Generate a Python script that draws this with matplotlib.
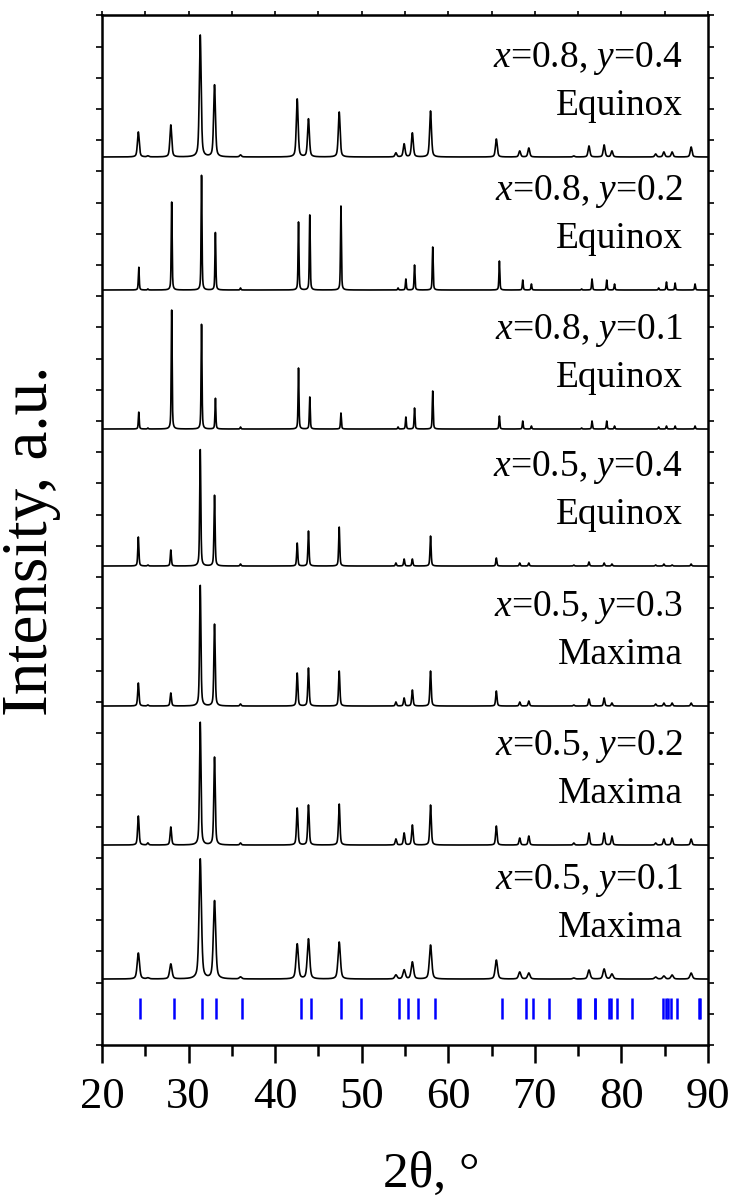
import numpy as np
import matplotlib
matplotlib.use("Agg")
import matplotlib.pyplot as plt

plt.rcParams['font.family'] = ['Liberation Serif', 'DejaVu Serif']
plt.rcParams['mathtext.fontset'] = 'custom'
plt.rcParams['mathtext.rm'] = 'Liberation Serif'
plt.rcParams['mathtext.it'] = 'Liberation Serif:italic'

# peak positions (2theta, deg)
pos_a = [24.2, 25.3, 27.95, 31.35, 33.0, 36.0, 42.55, 43.85, 47.4, 53.95, 54.9, 55.85,
         57.95, 65.55, 68.25, 69.3, 74.5, 76.25, 78.0, 78.9, 83.95, 84.9, 85.85, 88.05]
pos_b = [24.25, 25.3, 28.05, 31.5, 33.1, 36.0, 42.7, 44.0, 47.6, 54.2, 55.1, 56.1,
         58.2, 65.9, 68.6, 69.6, 75.4, 76.6, 78.3, 79.2, 84.3, 85.2, 86.2, 88.5]

# peak heights, a.u. (bottom pattern first)
h_05_01 = [26, 1, 15, 120, 78, 2, 35, 40, 37, 4, 9, 17, 34, 19, 7, 6, 1, 9, 10, 5, 2, 3, 4, 6]
h_05_02 = [29, 2, 18, 123, 88, 2, 37, 40, 41, 6, 12, 20, 40, 19, 7, 9, 2, 12, 12, 9, 2, 6, 7, 6]
h_05_03 = [23, 1, 13, 121, 82, 2, 33, 38, 35, 4, 8, 16, 35, 15, 4, 5, 1, 7, 8, 3, 2, 3, 3, 3]
h_05_04 = [29, 1, 16, 117, 71, 2, 23, 35, 39, 3, 7, 7, 30, 8, 3, 3, 1, 4, 3, 2, 1, 2, 1, 2]
h_08_01 = [17, 1, 119, 105, 31, 2, 61, 32, 16, 2, 12, 21, 38, 13, 8, 3, 1, 8, 8, 3, 2, 3, 3, 3]
h_08_02 = [23, 1, 88, 115, 58, 2, 68, 75, 84, 2, 11, 25, 43, 29, 10, 6, 1, 11, 10, 6, 2, 8, 7, 6]
h_08_04 = [25, 1, 32, 122, 72, 2, 58, 38, 45, 4, 13, 24, 46, 18, 6, 9, 1, 11, 12, 6, 3, 5, 5, 10]

labels = [r'$x$=0.5, $y$=0.1', r'$x$=0.5, $y$=0.2', r'$x$=0.5, $y$=0.3', r'$x$=0.5, $y$=0.4',
          r'$x$=0.8, $y$=0.1', r'$x$=0.8, $y$=0.2', r'$x$=0.8, $y$=0.4']
makers = ['Maxima', 'Maxima', 'Maxima', 'Equinox', 'Equinox', 'Equinox', 'Equinox']
heights = [h_05_01, h_05_02, h_05_03, h_05_04, h_08_01, h_08_02, h_08_04]
positions = [pos_a, pos_a, pos_a, pos_a, pos_b, pos_b, pos_a]
offsets = [66, 200, 339, 479, 616, 755, 888]
fwhm = [0.32, 0.2, 0.18, 0.15, 0.12, 0.12, 0.25]

# reference pattern lines
ref_pos = [24.36, 28.29, 31.6, 33.17, 36.2, 42.97, 44.16, 47.66, 49.94, 54.25, 55.39,
           56.48, 58.51, 66.19, 68.93, 69.74, 71.63, 75.0, 75.2, 76.9, 77.0, 78.6,
           78.75, 79.45, 81.25, 84.8, 85.1, 85.4, 85.75, 86.46, 89.0, 89.1]

tt = np.linspace(20, 90, 5000)


def profile(pos, amp, w):
    y = np.zeros_like(tt)
    for p, a in zip(pos, amp):
        g = np.exp(-4 * np.log(2) * (tt - p) ** 2 / w ** 2)
        l = 1 / (1 + 4 * (tt - p) ** 2 / w ** 2)
        y += a * (0.5 * g + 0.5 * l)
    return y


fig = plt.figure(figsize=(7.3, 11.99), dpi=100)
ax = fig.add_axes([0.1397, 0.1284, 0.8302, 0.8591])

for i in range(7):
    y = offsets[i] + profile(positions[i], heights[i], fwhm[i])
    ax.plot(tt, y, color='black', lw=1.2)
    ax.text(87.1, offsets[i] + 90, labels[i], ha='right', va='baseline', fontsize=27)
    ax.text(87.1, offsets[i] + 42, makers[i], ha='right', va='baseline', fontsize=27)

ax.vlines(ref_pos, 26, 47, color='blue', lw=1.8)

ax.set_xlim(20, 90)
ax.set_ylim(0, 1030)
ax.set_xticks(np.arange(20, 91, 10))
ax.set_xticks(np.arange(25, 90, 10), minor=True)
ax.set_yticks(np.arange(0, 1031, 31.2))
ax.tick_params(axis='x', which='major', direction='out', length=13, width=1.8,
               labelsize=32, pad=10, top=False)
ax.tick_params(axis='x', which='minor', direction='out', length=8, width=1.8, top=False)
ax.tick_params(axis='y', direction='out', left=True, right=True, labelleft=False,
               length=4, width=1.2)
for s in ax.spines.values():
    s.set_linewidth(1.8)

top = ax.secondary_xaxis('top')
top.set_xticks(np.arange(20, 91, 5))
top.tick_params(direction='out', length=3, width=1.2, labeltop=False)

ax.set_xlabel(u'2\u03b8, \u00b0', fontsize=37)
ax.xaxis.set_label_coords(0.543, -0.103)
ax.set_ylabel('Intensity, a.u.', fontsize=47)
ax.yaxis.set_label_coords(-0.068, 0.49)

fig.savefig('out.png', dpi=100)
